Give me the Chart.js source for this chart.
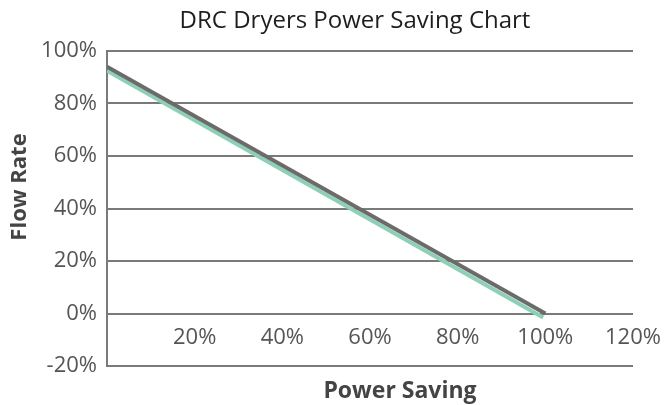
<!DOCTYPE html>
<html>
<head>
<meta charset="utf-8">
<script src="https://cdn.jsdelivr.net/npm/chart.js@4/dist/chart.umd.min.js"></script>
<style>
  html, body { margin: 0; padding: 0; background: #fff; }
  #box { width: 664px; height: 405px; }
</style>
</head>
<body>
<div id="box"><canvas id="chartSaving"></canvas></div>
<script>
// Dados do gráfico
const xTicks = [0, 20, 40, 60, 80, 100, 120];
const yTicks = [-20, 0, 20, 40, 60, 80, 100];
const savingGray = [0, 100];
const flowGray = [94, 0];
const savingGreen = [0, 99.5];
const flowGreen = [92.5, -1.5];

const toPoints = (xs, ys) => xs.map((x, i) => ({ x: x, y: ys[i] }));

// Títulos desenhados à mão (posições do original)
const titlesPlugin = {
    id: 'titles',
    afterDraw(chart) {
        const c = chart.ctx;
        c.save();
        c.textAlign = 'center';
        c.textBaseline = 'middle';
        c.fillStyle = '#1e1e1e';
        c.font = '24px "Open Sans"';
        c.fillText('DRC Dryers Power Saving Chart', 355, 21);
        c.fillStyle = '#444';
        c.font = 'bold 23px "Open Sans"';
        c.fillText('Power Saving', 400, 391);
        c.font = 'bold 22px "Open Sans"';
        c.translate(20, 187);
        c.rotate(-Math.PI / 2);
        c.fillText('Flow Rate', 0, 0);
        c.restore();
    }
};

const ctx = document.getElementById('chartSaving').getContext('2d');
const chart = new Chart(ctx, {
    type: 'line',
    data: {
        datasets: [{
            label: 'Power',
            data: toPoints(savingGray, flowGray),
            borderColor: '#6b6b6b',
            borderWidth: 4,
            pointRadius: 0
        }, {
            label: 'Flow',
            data: toPoints(savingGreen, flowGreen),
            borderColor: '#8dd0b5',
            borderWidth: 4,
            pointRadius: 0
        }]
    },
    options: {
        responsive: true,
        maintainAspectRatio: false,
        animation: false,
        layout: { padding: { top: 51, bottom: 39, right: 31, left: 0 } },
        plugins: {
            legend: { display: false },
            tooltip: { enabled: false }
        },
        scales: {
            x: {
                type: 'linear',
                position: { y: 0 },
                min: xTicks[0],
                max: xTicks[xTicks.length - 1],
                afterBuildTicks: s => { s.ticks = xTicks.map(v => ({ value: v })); },
                grid: { display: false },
                border: { display: false },
                ticks: {
                    padding: 3,
                    color: '#555',
                    font: { family: 'Open Sans', size: 22 },
                    callback: v => v === 0 ? '' : v + '%'
                }
            },
            y: {
                min: yTicks[0],
                max: yTicks[yTicks.length - 1],
                afterBuildTicks: s => { s.ticks = yTicks.map(v => ({ value: v })); },
                afterFit: s => { s.width = 107; },
                grid: { color: '#7a7a7a', lineWidth: 2, drawTicks: false },
                border: { color: '#7a7a7a', width: 2 },
                ticks: {
                    padding: 10,
                    color: '#555',
                    font: { family: 'Open Sans', size: 22 },
                    callback: v => v + '%'
                }
            }
        }
    },
    plugins: [titlesPlugin]
});
</script>
</body>
</html>
